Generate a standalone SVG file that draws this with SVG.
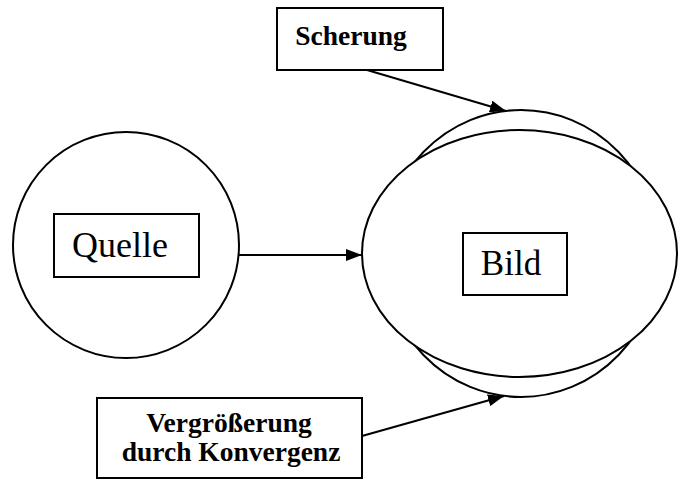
<svg xmlns="http://www.w3.org/2000/svg" width="680" height="480" viewBox="0 0 680 480">
  <defs>
    <marker id="arrow" viewBox="0 0 16 12" refX="16" refY="6" markerWidth="16" markerHeight="12" markerUnits="userSpaceOnUse" orient="auto">
      <path d="M0,0 L16,6 L0,12 Z" fill="#000"/>
    </marker>
    <style>
      .shape { fill: #fff; stroke: #000; stroke-width: 2; }
      .box { fill: #fff; stroke: #000; stroke-width: 2; }
      .edge { fill: none; stroke: #000; stroke-width: 2; marker-end: url(#arrow); }
      .reg { font-family: "Liberation Serif", "Times New Roman", serif; font-size: 35px; fill: #000; text-anchor: middle; }
      .bold { font-family: "Liberation Serif", "Times New Roman", serif; font-size: 27.5px; font-weight: bold; fill: #000; text-anchor: middle; }
    </style>
  </defs>
  <rect width="680" height="480" fill="#fff"/>

  <g id="quelle">
    <circle class="shape" cx="126" cy="245" r="113"/>
    <rect class="box" x="54" y="214" width="145" height="63"/>
    <text class="reg" x="120" y="257" style="font-size:36px">Quelle</text>
  </g>

  <g id="bild">
    <ellipse class="shape" cx="521" cy="253.5" rx="138" ry="143.5"/>
    <ellipse class="shape" cx="519.5" cy="253.5" rx="157.5" ry="123.5"/>
    <rect class="box" x="463" y="233" width="104" height="62"/>
    <text class="reg" x="511" y="275">Bild</text>
  </g>

  <g id="scherung">
    <rect class="box" x="277" y="8" width="166" height="62"/>
    <text class="bold" x="351" y="45">Scherung</text>
  </g>

  <g id="vergroesserung">
    <rect class="box" x="97" y="398" width="265" height="80"/>
    <text class="bold" x="229" y="432">Vergrößerung</text>
    <text class="bold" x="231" y="461">durch Konvergenz</text>
  </g>

  <g id="connectors">
    <line class="edge" x1="239" y1="255" x2="362" y2="255"/>
    <line class="edge" x1="367" y1="70" x2="506" y2="111"/>
    <line class="edge" x1="362" y1="436" x2="504" y2="396"/>
  </g>
</svg>
